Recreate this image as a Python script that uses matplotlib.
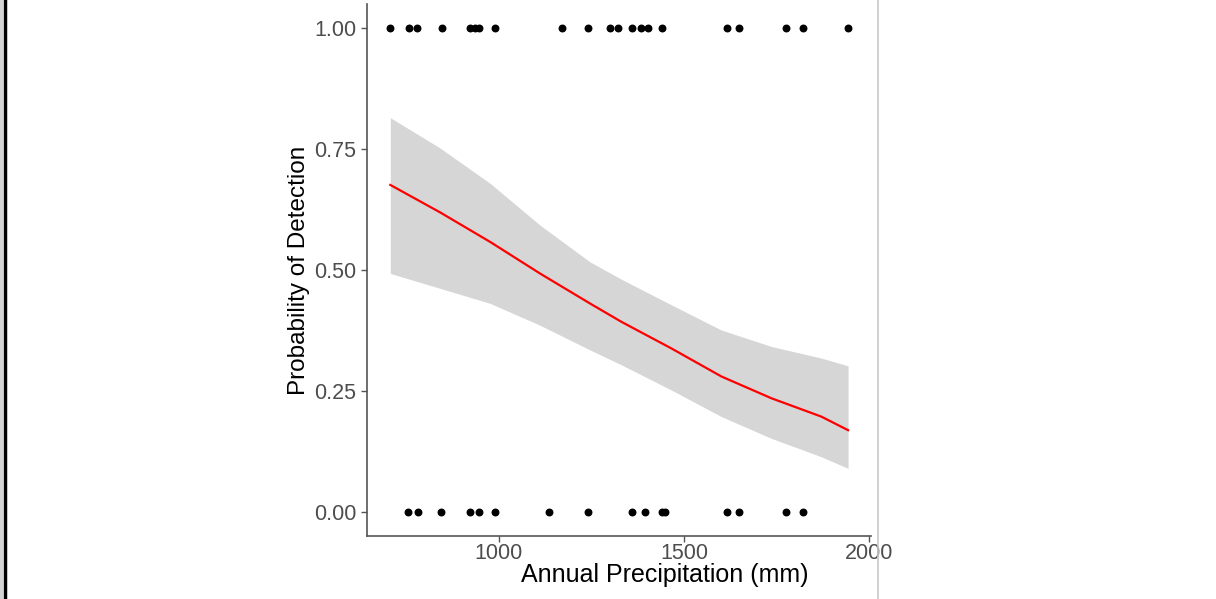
import matplotlib
matplotlib.use("Agg")
import matplotlib.pyplot as plt
from matplotlib.lines import Line2D
from matplotlib.patches import Rectangle

plt.rcParams['font.family'] = ['Liberation Sans', 'DejaVu Sans']

# Observed detections (1) and non-detections (0), annual precipitation in mm
precip_detected = [706, 757, 779, 846, 922, 936, 947, 989, 1170, 1241, 1299,
                   1323, 1360, 1383, 1402, 1441, 1616, 1648, 1776, 1820, 1943]
precip_missed = [754, 781, 844, 923, 947, 989, 1136, 1241, 1360, 1396, 1441,
                 1450, 1616, 1648, 1776, 1820]

# Fitted logistic curve and confidence band
fit_x = [707, 842, 977, 1111, 1246, 1331, 1466, 1601, 1736, 1871, 1943]
fit_p = [0.676, 0.619, 0.558, 0.493, 0.431, 0.393, 0.338, 0.280, 0.235, 0.197, 0.169]
fit_upper = [0.815, 0.752, 0.679, 0.593, 0.517, 0.481, 0.428, 0.376, 0.342, 0.318, 0.302]
fit_lower = [0.493, 0.462, 0.431, 0.386, 0.335, 0.304, 0.252, 0.197, 0.152, 0.114, 0.090]

y_ticks = [0.0, 0.25, 0.5, 0.75, 1.0]
y_ticklabels = ["0.00", "0.25", "0.50", "0.75", "1.00"]
x_ticks = [1000, 1500, 2000]

fig = plt.figure(figsize=(12.16, 5.99), dpi=100)
ax = fig.add_axes([0.3018, 0.105, 0.4145, 0.8883])

ax.fill_between(fit_x, fit_lower, fit_upper, color='#d6d6d6', linewidth=0)
ax.plot(fit_x, fit_p, color='red', linewidth=1.6)
ax.scatter(precip_detected, [1] * len(precip_detected), s=22, color='black', zorder=3)
ax.scatter(precip_missed, [0] * len(precip_missed), s=22, color='black', zorder=3)

ax.set_xlim(644, 2005)
ax.set_ylim(-0.05, 1.05)
ax.set_xticks(x_ticks)
ax.set_yticks(y_ticks)
ax.set_yticklabels(y_ticklabels)

for side in ['top', 'right']:
    ax.spines[side].set_visible(False)
for side in ['left', 'bottom']:
    ax.spines[side].set_color('#555555')
    ax.spines[side].set_linewidth(1.2)

ax.tick_params(axis='both', colors='#555555', labelcolor='#4d4d4d', labelsize=15.5,
               length=4, width=1)
ax.tick_params(axis='x', pad=1)

ax.set_xlabel("Annual Precipitation (mm)", fontsize=18, color='black')
ax.xaxis.set_label_coords(0.591, -0.05)
ax.set_ylabel("Probability of Detection", fontsize=17.5, color='black', labelpad=3)

# screenshot edges: grey strip + black border at left, grey line on right
fig.add_artist(Rectangle((0, 0), 3 / 1216, 1, transform=fig.transFigure,
                         color='#d4d4d4', linewidth=0))
fig.add_artist(Line2D([5 / 1216, 5 / 1216], [0, 1], transform=fig.transFigure,
                      color='black', linewidth=2.5))
fig.add_artist(Line2D([878 / 1216, 878 / 1216], [0, 1], transform=fig.transFigure,
                      color='#c8c8c8', linewidth=1.2))

fig.savefig("out.png", dpi=100)
